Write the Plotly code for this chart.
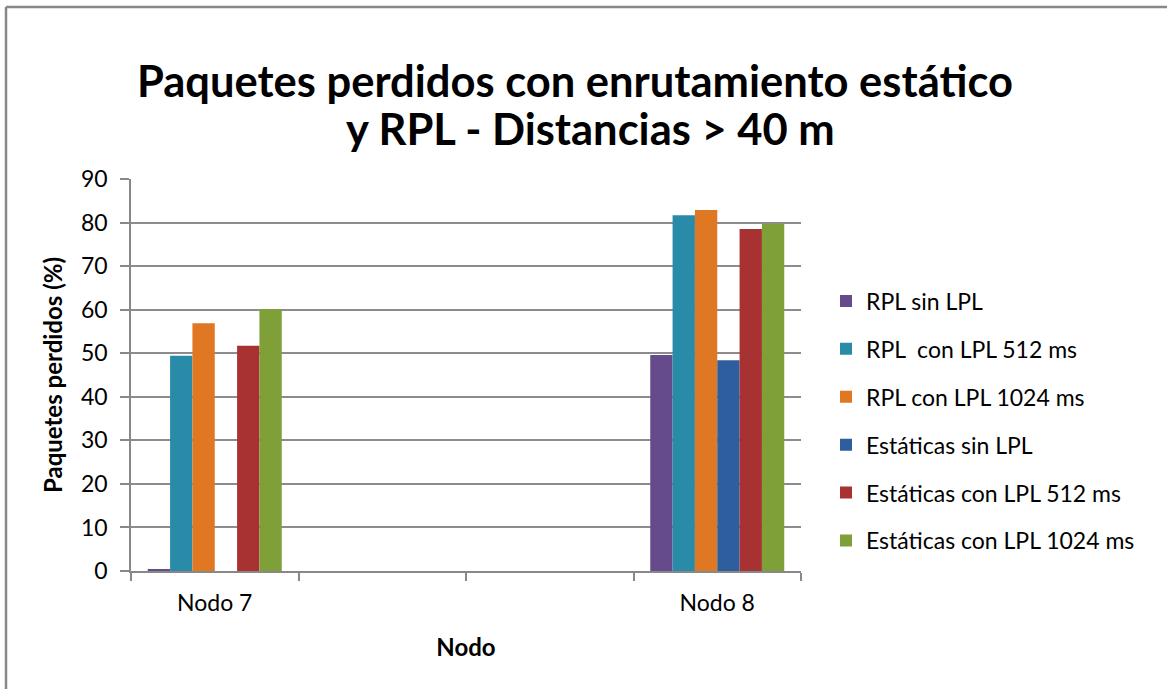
import plotly.graph_objects as go

categories = ["Nodo 7", " ", "  ", "Nodo 8"]
nodes = ["Nodo 7", "Nodo 8"]

series_names = [
    "RPL sin LPL",
    "RPL  con LPL 512 ms",
    "RPL con LPL 1024 ms",
    "Estáticas sin LPL",
    "Estáticas con LPL 512 ms",
    "Estáticas con LPL 1024 ms",
]
rpl_sin_lpl = [0.3, 49.6]
rpl_512 = [49.4, 81.7]
rpl_1024 = [56.9, 82.9]
est_sin_lpl = [0, 48.4]
est_512 = [51.7, 78.5]
est_1024 = [60.1, 79.7]

title_lines = ["Paquetes perdidos con enrutamiento estático", "y RPL - Distancias > 40 m"]

colors = ["#654a8c", "#2a8ba8", "#e07722", "#2f5e9e", "#a83131", "#7f9f39"]

FONT = "Lato, 'Open Sans', sans-serif"

# plot area in pixels: x 131..801, y 179..571
L, R, T, B = 131, 801, 179, 571
W, H = 1167, 689


def px_x(p):
    return (p - L) / (R - L)


def px_y(p):
    return (B - p) / (B - T)


fig = go.Figure()
for name, vals, col in zip(
    series_names, [rpl_sin_lpl, rpl_512, rpl_1024, est_sin_lpl, est_512, est_1024], colors
):
    fig.add_trace(
        go.Bar(
            x=nodes,
            y=vals,
            name=name,
            legendgroup=name,
            marker=dict(color=col, line=dict(width=0)),
        )
    )

fig.update_layout(
    width=W,
    height=H,
    barmode="group",
    bargap=0.2,
    bargroupgap=0,
    paper_bgcolor="white",
    plot_bgcolor="white",
    font=dict(family=FONT, size=23, color="#000000"),
    margin=dict(l=L, r=W - R, t=T, b=H - B),
    legend=dict(
        x=px_x(826),
        xanchor="left",
        y=px_y(421),
        yanchor="middle",
        traceorder="grouped",
        tracegroupgap=15,
        font=dict(family=FONT, size=23),
        itemwidth=30,
        bgcolor="rgba(0,0,0,0)",
    ),
    showlegend=True,
)

# two-line chart title, each line centred as in the original
for txt, cx, cy in zip(title_lines, [575, 590], [80, 128]):
    fig.add_annotation(
        text=f"<b>{txt}</b>",
        xref="paper",
        yref="paper",
        x=px_x(cx),
        y=px_y(cy),
        xanchor="center",
        yanchor="middle",
        showarrow=False,
        font=dict(family=FONT, size=43.5, color="#000000"),
    )

fig.update_xaxes(
    type="category",
    categoryorder="array",
    categoryarray=categories,
    range=[-0.5, 3.5],
    tickson="boundaries",
    ticks="outside",
    ticklen=8,
    tickcolor="#888888",
    tickwidth=1.5,
    showline=True,
    linecolor="#888888",
    linewidth=1.5,
    showgrid=False,
    tickfont=dict(size=23),
    ticklabelstandoff=11,
    title=dict(text="<b>Nodo</b>", font=dict(size=24), standoff=24),
)
fig.update_yaxes(
    range=[0, 90],
    dtick=10,
    ticks="outside",
    ticklen=9,
    tickcolor="#888888",
    tickwidth=1.5,
    showline=True,
    linecolor="#888888",
    linewidth=1.5,
    showgrid=True,
    gridcolor="#8c8c8c",
    gridwidth=1.5,
    zeroline=False,
    tickfont=dict(size=23),
    ticklabelstandoff=8,
    title=dict(text="<b>Paquetes perdidos (%)</b>", font=dict(size=24), standoff=12),
)

# outer chart border (only top and left edges fall inside the frame)
bx, by = px_x(6), px_y(7)
fig.add_shape(type="line", xref="paper", yref="paper", x0=bx, x1=2.0, y0=by, y1=by,
              line=dict(color="#888888", width=2.5))
fig.add_shape(type="line", xref="paper", yref="paper", x0=bx, x1=bx, y0=by, y1=-1.0,
              line=dict(color="#888888", width=2.5))

fig.write_html(
    "out.html",
    config={"displayModeBar": False},
    post_script="document.body.style.margin='0';",
)
